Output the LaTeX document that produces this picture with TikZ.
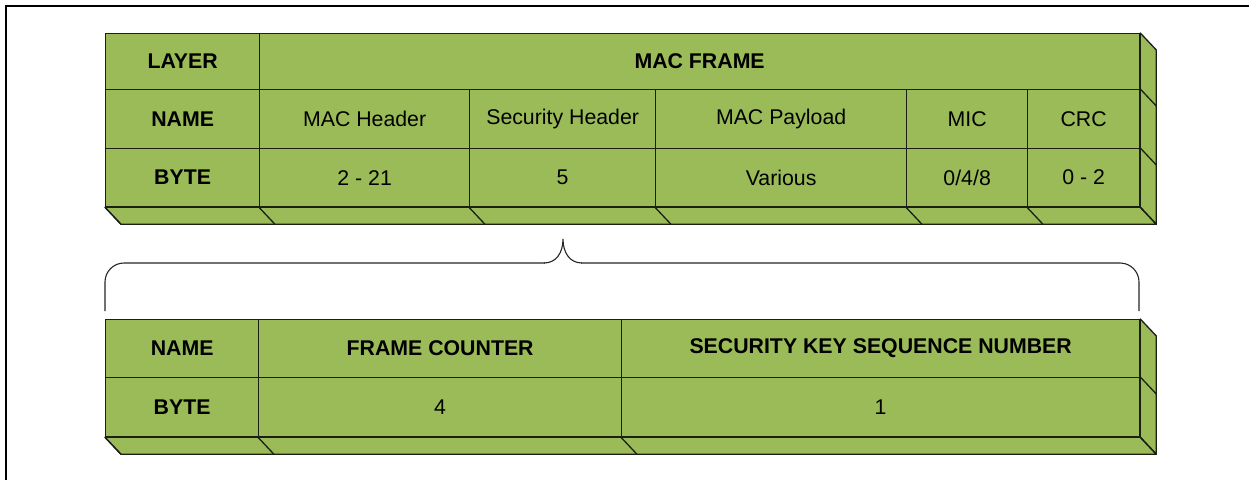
\documentclass[tikz,border=0pt]{standalone}
\usepackage{fontspec}
\setmainfont{Liberation Sans}
\usetikzlibrary{calc}
\definecolor{cellgreen}{HTML}{9BBB59}
\definecolor{linec}{HTML}{1C1F16}
\tikzset{
  cell/.style={draw=linec, fill=cellgreen, line width=1.3pt, anchor=north west, inner sep=0pt,
    font=\fontsize{21.3}{25}\selectfont, text=black},
  hcell/.style={cell, font=\fontsize{21.3}{25}\selectfont\bfseries},
  face/.style={draw=linec, fill=cellgreen, line width=1.3pt, line join=round},
  edgeline/.style={draw=linec, line width=1.3pt},
  bracel/.style={draw=black!85, line width=1.1pt},
  framel/.style={draw=black, line width=2pt}
}
\begin{document}
\begin{tikzpicture}[x=1pt,y=-1pt]
\useasboundingbox (0,0) rectangle (1249,479);
\fill[white] (0,0) rectangle (1249,479);
% frame
\draw[framel] (6,500) -- (6,6) -- (1270,6);

% ---- top table ----
\node[hcell, minimum width=154pt, minimum height=56pt] (layer) at (105,33) {LAYER};
\node[hcell, minimum width=880pt, minimum height=56pt] (macframe) at (259,33) {MAC FRAME};
\node[hcell, minimum width=154pt, minimum height=59pt] (nameA) at (105,89) {NAME};
\node[cell, minimum width=210pt, minimum height=59pt] (machdr) at (259,89) {MAC Header};
\node[cell, minimum width=186pt, minimum height=59pt] (sechdr) at (469,89) {Security Header};
\node[cell, minimum width=251pt, minimum height=59pt] (payload) at (655,89) {MAC Payload};
\node[cell, minimum width=121pt, minimum height=59pt] (mic) at (906,89) {MIC};
\node[cell, minimum width=112pt, minimum height=59pt] (crc) at (1027,89) {CRC};
\node[hcell, minimum width=154pt, minimum height=58pt] (byteA) at (105,148) {BYTE};
\node[cell, minimum width=210pt, minimum height=58pt] (bmachdr) at (259,148) {2 - 21};
\node[cell, minimum width=186pt, minimum height=58pt] (bsechdr) at (469,148) {5};
\node[cell, minimum width=251pt, minimum height=58pt] (bpayload) at (655,148) {Various};
\node[cell, minimum width=121pt, minimum height=58pt] (bmic) at (906,148) {0/4/8};
\node[cell, minimum width=112pt, minimum height=58pt] (bcrc) at (1027,148) {0 - 2};

% 3D faces, top table
\draw[face] (macframe.north east) -- ++(16,17) -- ($(bcrc.south east)+(16,17)$) -- (bcrc.south east) -- cycle;
\draw[face] (byteA.south west) -- ++(16,17) -- ($(bcrc.south east)+(16,17)$) -- (bcrc.south east) -- cycle;
\foreach \c in {byteA,bmachdr,bsechdr,bpayload,bmic,bcrc}
  \draw[edgeline] (\c.south west) -- ++(16,17);
\foreach \c in {crc,bcrc}
  \draw[edgeline] (\c.north east) -- ++(16,17);
\draw[edgeline] (bcrc.south east) -- ++(16,17);

% ---- brace ----
\coordinate (bl) at (105,311);
\coordinate (br) at (1139,311);
\coordinate (tip) at (563,239);
\draw[bracel, rounded corners=19pt] (bl) -- (105,263) -- (545,263);
\draw[bracel] (544,263) .. controls (556,263) and (563,253) .. (tip)
              .. controls (563,253) and (570,263) .. (582,263);
\draw[bracel, rounded corners=19pt] (581,263) -- (1139,263) -- (br);

% ---- bottom table ----
\node[hcell, minimum width=153pt, minimum height=58pt] (nameB) at (105,319) {NAME};
\node[hcell, minimum width=363pt, minimum height=58pt] (fc) at (258,319) {FRAME COUNTER};
\node[hcell, minimum width=518pt, minimum height=58pt] (sksn) at (621,319) {SECURITY KEY SEQUENCE NUMBER};
\node[hcell, minimum width=153pt, minimum height=59pt] (byteB) at (105,377) {BYTE};
\node[cell, minimum width=363pt, minimum height=59pt] (bfc) at (258,377) {4};
\node[cell, minimum width=518pt, minimum height=59pt] (bsksn) at (621,377) {1};

\draw[face] (sksn.north east) -- ++(16,17) -- ($(bsksn.south east)+(16,17)$) -- (bsksn.south east) -- cycle;
\draw[face] (byteB.south west) -- ++(16,17) -- ($(bsksn.south east)+(16,17)$) -- (bsksn.south east) -- cycle;
\foreach \c in {byteB,bfc,bsksn}
  \draw[edgeline] (\c.south west) -- ++(16,17);
\draw[edgeline] (bsksn.north east) -- ++(16,17);
\draw[edgeline] (bsksn.south east) -- ++(16,17);
\end{tikzpicture}
\end{document}
